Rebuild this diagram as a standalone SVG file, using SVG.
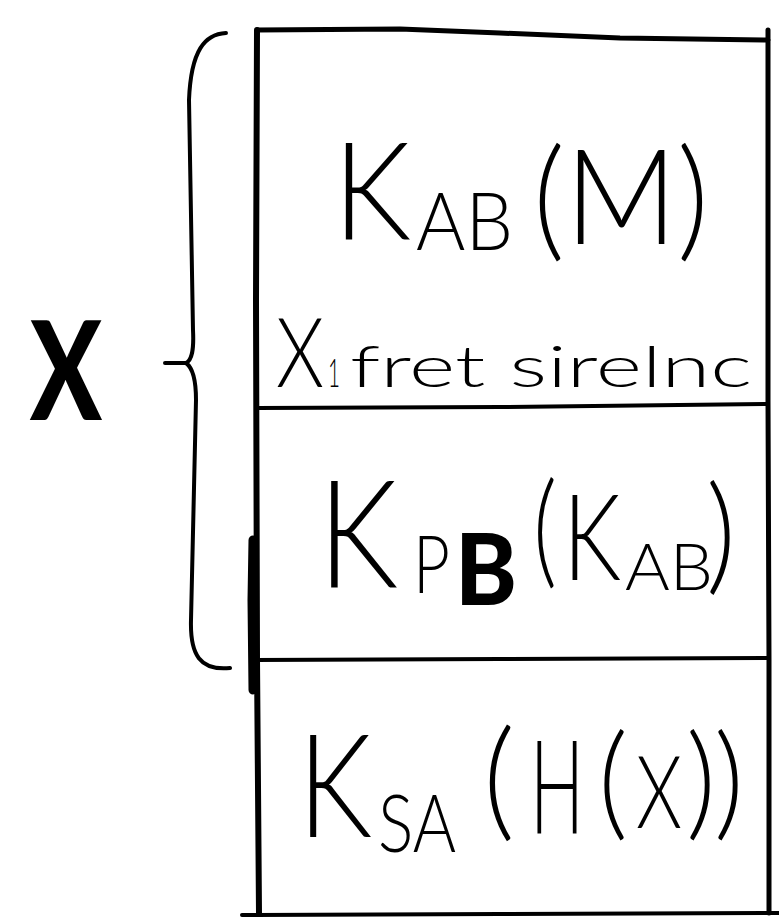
<svg xmlns="http://www.w3.org/2000/svg" width="779" height="922" viewBox="0 0 779 922">
<style>
.ln{fill:none;stroke:#000;stroke-linecap:round;stroke-linejoin:round}
.t{font-family:Lato,"Liberation Sans",sans-serif;font-weight:300;fill:#000}
.b{font-weight:900}
.xl{font-family:Lato,"Liberation Sans",sans-serif;font-weight:900;fill:#000}
</style>
<rect width="779" height="922" fill="#fff"/>
<g id="frame">
<path class="ln" stroke-width="5" d="M257,30 L400,29 L500,33 L620,38 L768,40"/>
<path class="ln" stroke-width="6" d="M257,30 L256,300 L257,660 L259,913"/>
<path class="ln" stroke-width="5" d="M768,30 L768,400 L769,660 L769,913"/>
<path class="ln" stroke-width="4" d="M242,915 L500,914 L779,913"/>
<path class="ln" stroke-width="9" d="M253,540 L252,600 L253,690"/>
</g>
<g id="cell-kab">
<path class="ln" stroke-width="4" d="M257,408 L500,407 L768,404"/>
<text class="t"><tspan x="333" y="240" font-size="136" textLength="78" lengthAdjust="spacingAndGlyphs">K</tspan><tspan x="416" y="250" font-size="80" textLength="97" lengthAdjust="spacingAndGlyphs">AB</tspan><tspan x="533" y="244" font-size="132" textLength="176" lengthAdjust="spacingAndGlyphs">(M)</tspan></text>
<text class="t" y="387"><tspan x="276" font-size="96" textLength="48" lengthAdjust="spacingAndGlyphs">X</tspan><tspan x="328" font-size="40" textLength="12" lengthAdjust="spacingAndGlyphs">1</tspan><tspan x="350" font-size="58" textLength="402" lengthAdjust="spacingAndGlyphs">fret sirelnc</tspan></text>
</g>
<g id="cell-kpb">
<path class="ln" stroke-width="4" d="M252,660 L500,659 L768,658"/>
<text class="t"><tspan x="318" y="587" font-size="150" textLength="80" lengthAdjust="spacingAndGlyphs">K</tspan><tspan x="413" y="593" font-size="80" textLength="37" lengthAdjust="spacingAndGlyphs">P</tspan><tspan class="b" x="455" y="605" font-size="100" textLength="62" lengthAdjust="spacingAndGlyphs">B</tspan><tspan x="533" y="572" font-size="125" textLength="24" lengthAdjust="spacingAndGlyphs">(</tspan><tspan x="563" y="580" font-size="120" textLength="58" lengthAdjust="spacingAndGlyphs">K</tspan><tspan x="625" y="590" font-size="65" textLength="88" lengthAdjust="spacingAndGlyphs">AB</tspan><tspan x="706" y="578" font-size="128" textLength="30" lengthAdjust="spacingAndGlyphs">)</tspan></text>
</g>
<g id="cell-ksa">
<text class="t"><tspan x="298" y="837" font-size="145" textLength="74" lengthAdjust="spacingAndGlyphs">K</tspan><tspan x="378" y="852" font-size="80" textLength="78" lengthAdjust="spacingAndGlyphs">SA</tspan><tspan x="483" y="824" font-size="130" textLength="32" lengthAdjust="spacingAndGlyphs">(</tspan><tspan x="530" y="833" font-size="130" textLength="54" lengthAdjust="spacingAndGlyphs">H</tspan><tspan x="598" y="824" font-size="125" textLength="30" lengthAdjust="spacingAndGlyphs">(</tspan><tspan x="636" y="828" font-size="100" textLength="46" lengthAdjust="spacingAndGlyphs">X</tspan><tspan x="686" y="824" font-size="125" textLength="30" lengthAdjust="spacingAndGlyphs">)</tspan><tspan x="714" y="824" font-size="125" textLength="30" lengthAdjust="spacingAndGlyphs">)</tspan></text>
</g>
<g id="label-x">
<text class="xl" x="30" y="420" font-size="138" textLength="72" lengthAdjust="spacingAndGlyphs">X</text>
</g>
<g id="connectors">
<path class="ln" stroke-width="4" d="M226,33 C205,34 191,50 189,100 L193,330 C194,350 192,360 186,363 L165,363 M186,363 C193,368 196,380 196,400 L191,620 C190,655 200,671 230,668"/>
</g>
</svg>
